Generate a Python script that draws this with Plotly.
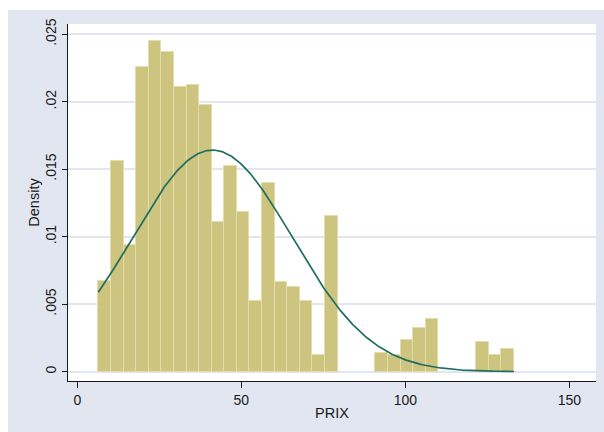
import numpy as np
import plotly.graph_objects as go

# Histogram of PRIX: 33 equal-width bins starting at bin_start
bin_start = 6.4
bin_width = 3.84
density = [
    0.00674, 0.01558, 0.00941, 0.02259, 0.02447, 0.02365, 0.02110, 0.02125,
    0.01974, 0.01107, 0.01523, 0.01184, 0.00525, 0.01400, 0.00664, 0.00624,
    0.00525, 0.00124, 0.01157, 0.0, 0.0, 0.0, 0.00139, 0.00122,
    0.00233, 0.00325, 0.00392, 0.0, 0.0, 0.0, 0.00221, 0.00122,
    0.00166,
]

# Normal density overlay (mean / sd of PRIX)
prix_mean = 41.2
prix_sd = 24.3

x_ticks = [0, 50, 100, 150]
y_ticks = [0, 0.005, 0.01, 0.015, 0.02, 0.025]
y_tick_text = ["0", ".005", ".01", ".015", ".02", ".025"]

# bar geometry from the bin definition
n_bins = len(density)
centers = [bin_start + bin_width * (i + 0.5) for i in range(n_bins)]
bar_x = [c for c, d in zip(centers, density) if d > 0]
bar_y = [d for d in density if d > 0]

x_min = bin_start
x_max = bin_start + bin_width * n_bins
xs = np.linspace(x_min, x_max, 300)
ys = np.exp(-0.5 * ((xs - prix_mean) / prix_sd) ** 2) / (prix_sd * np.sqrt(2 * np.pi))

BG = "#e1e6f0"
INK = "#1a1a1a"
FONT = "Liberation Sans, Arial, Helvetica, sans-serif"

fig = go.Figure()
fig.add_trace(go.Bar(
    x=bar_x, y=bar_y, width=bin_width,
    marker=dict(color="#cdc47f", line=dict(color="#e4ddaa", width=1)),
    showlegend=False, hoverinfo="skip",
))
fig.add_trace(go.Scatter(
    x=xs, y=ys, mode="lines",
    line=dict(color="#1f6e60", width=1.7),
    showlegend=False, hoverinfo="skip",
))

# plot area spans x 68..596 px and y 24..381 px
L, R, T, B = 68, 8, 24, 51
W, H = 604, 432
pw, ph = W - L - R, H - T - B

def px_x(p):
    return (p - L) / pw

def px_y(p):
    return (H - B - p) / ph

fig.update_layout(
    width=W, height=H,
    margin=dict(l=L, r=R, t=T, b=B, pad=0),
    paper_bgcolor=BG,
    plot_bgcolor="white",
    bargap=0,
    font=dict(family=FONT, size=14, color=INK),
    shapes=[
        # white border strips on the left and top of the graph region
        dict(type="rect", xref="paper", yref="paper",
             x0=px_x(0), x1=px_x(8), y0=px_y(W), y1=px_y(0),
             fillcolor="white", line=dict(width=0), layer="below"),
        dict(type="rect", xref="paper", yref="paper",
             x0=px_x(0), x1=px_x(W), y0=px_y(10), y1=px_y(0),
             fillcolor="white", line=dict(width=0), layer="below"),
    ],
)

fig.update_xaxes(
    range=[-2.84, 158.1],
    tickvals=x_ticks,
    ticks="outside", ticklen=6, tickwidth=1, tickcolor=INK,
    showline=True, linecolor=INK, linewidth=1,
    showgrid=False, zeroline=False,
    title=dict(text="PRIX", font=dict(size=14.5), standoff=1),
    automargin=False,
)
fig.update_yaxes(
    range=[-0.00069, 0.02576],
    tickvals=y_ticks, ticktext=y_tick_text, tickangle=-90,
    ticks="outside", ticklen=5, tickwidth=1, tickcolor=INK,
    showline=True, linecolor=INK, linewidth=1,
    showgrid=True, gridcolor=BG, gridwidth=1.6,
    zeroline=False,
    title=dict(text="Density", font=dict(size=14.5), standoff=0),
    automargin=False,
)

fig.write_html("out.html")
